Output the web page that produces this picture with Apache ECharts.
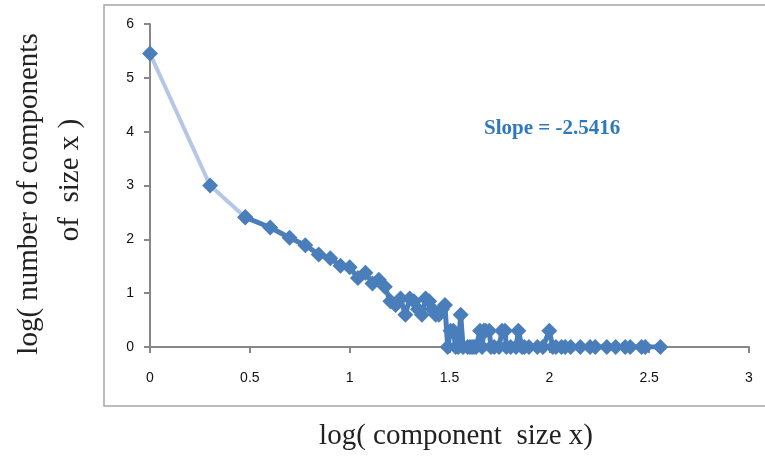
<!DOCTYPE html>
<html>
<head>
<meta charset="utf-8">
<script src="https://cdn.jsdelivr.net/npm/echarts@6/dist/echarts.min.js"></script>
<style>
  html, body { margin: 0; padding: 0; background: #fff; }
  #chart { width: 765px; height: 457px; }
</style>
</head>
<body>
<div id="chart"></div>
<script>
// log10 of component size (x) and log10 of number of components of that size (y)
var sizeLog = [0, 0.301, 0.477, 0.602, 0.699, 0.778, 0.845, 0.903, 0.954, 1.0,
  1.041, 1.079, 1.114, 1.146, 1.176, 1.204, 1.230, 1.255, 1.279, 1.301,
  1.322, 1.342, 1.362, 1.380, 1.398, 1.415, 1.431, 1.447, 1.462, 1.477,
  1.491, 1.505, 1.519, 1.531, 1.544, 1.556, 1.568, 1.591, 1.602, 1.613,
  1.623, 1.633, 1.653, 1.663, 1.672, 1.681, 1.699, 1.708, 1.724, 1.748,
  1.763, 1.778, 1.785, 1.806, 1.833, 1.845, 1.863, 1.875, 1.898, 1.940,
  1.968, 2.0, 2.017, 2.033, 2.061, 2.079, 2.107, 2.155, 2.204, 2.230,
  2.288, 2.332, 2.380, 2.405, 2.462, 2.480, 2.556];
var countLog = [5.45, 3.0, 2.41, 2.22, 2.03, 1.89, 1.72, 1.65, 1.51, 1.48,
  1.28, 1.38, 1.18, 1.25, 1.12, 0.85, 0.78, 0.90, 0.60, 0.90,
  0.85, 0.70, 0.60, 0.90, 0.85, 0.70, 0.60, 0.60, 0.70, 0.78,
  0, 0.30, 0.30, 0, 0, 0.60, 0, 0, 0, 0,
  0, 0, 0.30, 0, 0.30, 0.30, 0.30, 0, 0, 0,
  0.30, 0.30, 0, 0, 0, 0.30, 0, 0, 0, 0,
  0, 0.30, 0, 0, 0, 0, 0, 0, 0, 0,
  0, 0, 0, 0, 0, 0, 0];
var xTicks = [0, 0.5, 1, 1.5, 2, 2.5, 3];
var yTicks = [0, 1, 2, 3, 4, 5, 6];
var slopeText = "Slope = -2.5416";

var points = sizeLog.map(function (x, i) { return [x, countLog[i]]; });
var headPoints = points.slice(0, 3);
var tailPoints = points.slice(2);

var axisGray = "#878787";
var markBlue = "#4a7ebb";

var myChart = echarts.init(document.getElementById("chart"));
myChart.setOption({
  animation: false,
  grid: { left: 150, right: 16, top: 24, bottom: 110 },
  xAxis: {
    type: "value",
    min: xTicks[0],
    max: xTicks[xTicks.length - 1],
    interval: 0.5,
    splitLine: { show: false },
    axisLine: { show: true, lineStyle: { color: axisGray, width: 2 } },
    axisTick: { show: true, length: 6, lineStyle: { color: axisGray, width: 2 } },
    axisLabel: { margin: 24, fontSize: 14, color: "#111", fontFamily: "Liberation Sans" },
  },
  yAxis: {
    type: "value",
    min: yTicks[0],
    max: yTicks[yTicks.length - 1],
    interval: 1,
    splitLine: { show: false },
    axisLine: { show: true, lineStyle: { color: axisGray, width: 2 } },
    axisTick: { show: true, length: 6, lineStyle: { color: axisGray, width: 2 } },
    axisLabel: { margin: 16, fontSize: 14, color: "#111", fontFamily: "Liberation Sans" },
  },
  graphic: [
    {
      type: "rect",
      silent: true,
      shape: { x: 104, y: 5, width: 700, height: 401 },
      style: { fill: "none", stroke: "#a6a6a6", lineWidth: 1.5 },
    },
    {
      type: "text",
      x: 456, y: 436,
      style: {
        text: "log( component  size x)",
        font: "29px 'Liberation Serif'",
        fill: "#222",
        align: "center",
        verticalAlign: "middle",
      },
    },
    {
      type: "text",
      x: 29, y: 194,
      rotation: Math.PI / 2,
      style: {
        text: "log( number of components",
        font: "29px 'Liberation Serif'",
        fill: "#222",
        align: "center",
        verticalAlign: "middle",
      },
    },
    {
      type: "text",
      x: 70, y: 180,
      rotation: Math.PI / 2,
      style: {
        text: "of  size x )",
        font: "29px 'Liberation Serif'",
        fill: "#222",
        align: "center",
        verticalAlign: "middle",
      },
    },
    {
      type: "text",
      x: 484, y: 129,
      style: {
        text: slopeText,
        font: "bold 21px 'Liberation Serif'",
        fill: "#2e78bd",
        align: "left",
        verticalAlign: "middle",
      },
    },
  ],
  series: [
    {
      type: "line",
      data: headPoints,
      symbol: "diamond",
      symbolSize: 16,
      z: 1,
      lineStyle: { color: "#b4c8e6", width: 4 },
      itemStyle: { color: markBlue },
    },
    {
      type: "line",
      data: tailPoints,
      symbol: "diamond",
      symbolSize: 16,
      z: 2,
      lineStyle: { color: markBlue, width: 5 },
      itemStyle: { color: markBlue },
    },
  ],
});
</script>
</body>
</html>
